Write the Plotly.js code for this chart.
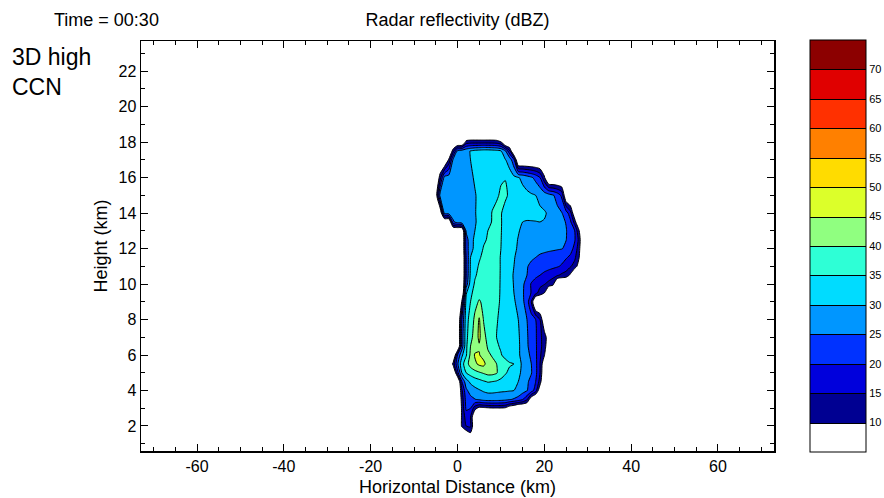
<!DOCTYPE html>
<html><head><meta charset="utf-8">
<script src="https://cdn.plot.ly/plotly-3.0.1.min.js"></script>
<style>html,body{margin:0;padding:0;background:#fff}#chart{width:884px;height:498px}</style>
</head><body><div id="chart"></div>
<script>
// Grid coordinates (km)
const xKm = [-6,-5,-4,-3,-2,-1,0,1,2,3,4,5,6,7,8,9,10,11,12,13,14,15,16,17,18,19,20,21,22,23,24,25,26,27,28,29];
const yKm = [1.5,2,2.5,3,3.5,4,4.5,5,5.5,6,6.5,7,8,9,9.5,10,10.5,11,11.5,12,12.5,13,13.5,14,15,16,17,17.5,18,18.5];

// Radar reflectivity (dBZ), one row per height in yKm, one column per distance in xKm
const dbz = [
 [0,0,0,0,0,0, 0,0,5,8,0,0,0,0,0,0, 0,0,0,0,0,0,0,0,0,0, 0,0,0,0,0,0,0,0,0,0],
 [0,0,0,0,0,0, 0,11,15,16,3,0,0,0,0,0, 0,0,0,0,0,0,0,0,0,0, 0,0,0,0,0,0,0,0,0,0],
 [0,0,0,0,0,0, 0,11,17,15,2,0,0,0,0,0, 0,0,0,0,0,0,0,0,0,0, 0,0,0,0,0,0,0,0,0,0],
 [0,0,0,0,0,0, 0,11,21,20,12,8,8.5,9,9.5,9.5, 9.5,9,5,3,0,0,0,0,0,0, 0,0,0,0,0,0,0,0,0,0],
 [0,0,0,0,0,0, 0,12,22,23.5,24.8,25.8,27,27.5,27.5,27.3, 27,26.5,25.5,24.5,23,20.5,16,5,0,0, 0,0,0,0,0,0,0,0,0,0],
 [0,0,0,0,0,0, 0,14,24,27,28.5,29.6,30.5,31,31,30.8, 30.6,30.5,30.3,30,29,27,25.3,22.5,17.5,5, 0,0,0,0,0,0,0,0,0,0],
 [0,0,0,0,0,0, 0,20,28,31,32.5,33.5,34.5,35.3,35,34.5, 34,33,32,30.8,30,28,25.8,23.5,20,13, 0,0,0,0,0,0,0,0,0,0],
 [0,0,0,0,0,0, 18,30,35,37,38.5,39.5,40.5,41.5,41.5,40.5, 37,35.5,34,32.5,31,29,27,25.3,21.5,15, 3,0,0,0,0,0,0,0,0,0],
 [0,0,0,0,0,12, 24,33,38,42,44,46,46.5,42.5,41.5,40, 38,36.5,35.5,35,32,29,26.5,25,21.5,15, 5,0,0,0,0,0,0,0,0,0],
 [0,0,0,0,0,0, 20,29,34.5,41,45.5,45.3,43,41,39.5,37, 35.3,33.8,32.5,31.5,30.5,29,26.5,24,21,16, 10.5,0,0,0,0,0,0,0,0,0],
 [0,0,0,0,0,0, 0,22,34,40,43,44.5,43,39.3,37,35.6, 34.5,33.5,32.5,31.5,30.7,28.5,25.7,23,20.8,16.5, 12.5,5,0,0,0,0,0,0,0,0],
 [0,0,0,0,0,0, 0,22,33.5,38.5,42,46,41.5,38.5,36.5,35, 34,33,32,31,30.5,28.5,25.5,23,20.8,16, 13,6,0,0,0,0,0,0,0,0],
 [0,0,0,0,0,0, 0,20,33,37,41,45.5,39.8,38,36.5,35.3, 34.2,33,32,31,30,28,25,22.5,20,15, 4,0,0,0,0,0,0,0,0,0],
 [0,0,0,0,0,0, 0,10.5,32,35,38.5,40.5,39,38,37,36, 34.5,33,31.5,30.4,29,26,22.5,15,0,0, 0,0,0,0,0,0,0,0,0,0],
 [0,0,0,0,0,0, 0,0,29.5,34,36.5,38.5,39,38.5,37.7,36.5, 34.5,33,31.5,30,28,25.8,22,19.8,16.5,13, 10,0,0,0,0,0,0,0,0,0],
 [0,0,0,0,0,0, 0,0,22,32.5,35.5,37,38,38.3,38,36.8, 34.5,33,31.3,29.8,27.8,25.9,23,19.5,17.5,16.3, 15.3,13.5,11.5,0,0,0,0,0,0,0],
 [0,0,0,0,0,0, 0,0,20,31,34.5,36,37,37.5,37.3,36.3, 34.7,33,31.4,29.6,28.3,26.8,25,22.8,21.2,20, 18.8,17.8,16.8,15.7,14,13,9,0,0,0],
 [0,0,0,0,0,0, 0,0,20,30.5,33.5,35.5,36.5,37,37,36, 34.8,33.3,31.6,30,28.5,26.8,25.3,24,23,22.5, 22,21.5,21,20.4,19.5,17.5,15.5,13,7,0],
 [0,0,0,0,0,0, 0,0,20,30,32,34.5,36,36.5,37,36, 34.8,33.5,32,30.4,28.5,27.5,26.5,25.7,25,24, 23.5,23,22.5,22,21.5,20.5,19,16,10.3,0],
 [0,0,0,0,0,0, 0,0,22,28.5,31,33,35.3,36,36.5,36, 35,33.5,32,30.8,29.5,28.5,28,27.5,27,26.7, 26.3,26,25.8,25.5,25.2,24.3,22,18.5,12,0],
 [0,0,0,0,0,0, 0,0,22,29,30.5,32,34.3,35.4,36,35.8, 35.1,33.5,32,31,29.8,29,28.5,28,27.8,27.6, 27.3,27,26.5,26,25.6,25.1,23.5,20.5,13.5,0],
 [0,0,0,0,0,0, 0,0,26,28.5,30,31.5,33,35,35.5,35.8, 35.2,33.5,32,31,30.3,29.2,28.5,28.3,28.2,28, 27.8,27.5,27,26.5,26,25.3,23,20,10.5,0],
 [0,0,0,0,0,24, 27.5,28.5,29,29.5,29.8,30.5,32,33.5,35.3,36, 35.3,33.5,32.5,31.5,30.8,30,29.7,29.8,29.9,30, 29.8,29,28,27,26,24.8,21,13,0,0],
 [0,0,3,27,27.5,28, 28,28.5,29,29.5,29.8,30.8,32,33.5,35.2,36, 35.2,34,33,32.5,32,31.5,31.5,31.2,31,30.7, 30.4,29.5,28,26.5,25.3,22.5,17,4,0,0],
 [0,5,27,27.5,28,28, 28,28.5,29,29.3,29.8,30.6,32,33,33.8,34.5, 35.5,35.5,34.5,33.5,32.5,31.5,31,30.5,30,29, 28,27,25.5,23,19,3,0,0,0,0],
 [0,0,13,27,27.5,28, 28,28.5,29,29.5,30.3,31,32,32.5,33,33.5, 34.6,34.9,32,31,30.3,29,27.5,25.8,23.5,20, 11,0,0,0,0,0,0,0,0,0],
 [0,0,0,0,11,26, 27,28,29,30,31.5,32.5,33,33,33,32.5, 31.5,30.3,28,21,0,0,0,0,0,0, 0,0,0,0,0,0,0,0,0,0],
 [0,0,0,0,0,13, 26,27.5,28.7,30.2,31.5,32,32.5,32.5,32,31.5, 30.3,26,16,0,0,0,0,0,0,0, 0,0,0,0,0,0,0,0,0,0],
 [0,0,0,0,0,0, 0,0,12,13,13,13,13,13,13,12.5, 10.5,0,0,0,0,0,0,0,0,0, 0,0,0,0,0,0,0,0,0,0],
 [0,0,0,0,0,0, 0,0,0,0,0,0,0,0,0,0, 0,0,0,0,0,0,0,0,0,0, 0,0,0,0,0,0,0,0,0,0]
];

// Contour levels and band colours (5-10 ... 70-75 dBZ)
const levelStart = 10, levelEnd = 70, levelStep = 5;
const bandColors = ['#ffffff','#000092','#0000dc','#0032ff','#0096ff','#00dcff','#2effd6',
                    '#90ff80','#dcff2a','#ffdc00','#ff8000','#ff3000','#e00000','#8c0000'];
const cbTickVals = [10,15,20,25,30,35,40,45,50,55,60,65,70];
const cbTickText = ['10','15','20','25','30','35','40','45','50','55','60','65','70'];
const xTickVals = [-60,-40,-20,0,20,40,60];
const xTickText = ['-60','-40','-20','0','20','40','60'];
const yTickVals = [2,4,6,8,10,12,14,16,18,20,22];
const yTickText = ['2','4','6','8','10','12','14','16','18','20','22'];

const FONT = 'Liberation Sans, Arial, Helvetica, sans-serif';
const colorscale = bandColors.map((c, i) => [i / (bandColors.length - 1), c]);

const W = 884, H = 498;
const plotL = 141, plotR = 774, plotT = 41, plotB = 451;
const plotW = plotR - plotL, plotH = plotB - plotT;

const trace = {
  type: 'contour',
  x: xKm, y: yKm, z: dbz,
  autocontour: false,
  contours: {start: levelStart, end: levelEnd, size: levelStep, coloring: 'fill', showlines: true},
  line: {color: '#000000', width: 1, smoothing: 0.6},
  colorscale: colorscale,
  zmin: 5, zmax: 75,
  hoverinfo: 'skip',
  colorbar: {
    xref: 'container', x: 810 / W, xanchor: 'left', xpad: 0,
    yref: 'paper', y: (plotB - 246) / plotH, yanchor: 'middle', ypad: 0,
    thicknessmode: 'pixels', thickness: 56,
    lenmode: 'fraction', len: 412 / plotH,
    outlinecolor: '#000000', outlinewidth: 1,
    tickmode: 'array', tickvals: cbTickVals, ticktext: cbTickText,
    ticks: '', ticklen: 0,
    tickfont: {family: FONT, size: 11, color: '#000000'},
    borderwidth: 0
  }
};

const layout = {
  width: W, height: H,
  margin: {l: plotL, r: W - plotR, t: plotT, b: H - plotB, pad: 0},
  paper_bgcolor: '#ffffff', plot_bgcolor: '#ffffff',
  font: {family: FONT, color: '#000000'},
  showlegend: false,
  title: {text: 'Radar reflectivity (dBZ)', font: {family: FONT, size: 18, color: '#000'},
          x: 0.5, xref: 'paper', xanchor: 'center', y: 1 - 20 / H, yref: 'container', yanchor: 'middle'},
  xaxis: {
    range: [-72.9, 72.9], tickmode: 'array', tickvals: xTickVals, ticktext: xTickText,
    ticks: 'inside', ticklen: 7, tickwidth: 1, tickcolor: '#000',
    minor: {tickmode: 'linear', tick0: 0, dtick: 5, ticks: 'inside', ticklen: 4, tickwidth: 1, tickcolor: '#000', showgrid: false},
    showline: true, linecolor: '#000', linewidth: 1.5, mirror: 'ticks',
    showgrid: false, zeroline: false, automargin: false,
    tickfont: {family: FONT, size: 16, color: '#000'},
    title: {text: 'Horizontal Distance (km)', font: {family: FONT, size: 18, color: '#000'}, standoff: 6}
  },
  yaxis: {
    range: [0.59, 23.7], tickmode: 'array', tickvals: yTickVals, ticktext: yTickText,
    ticks: 'inside', ticklen: 7, tickwidth: 1, tickcolor: '#000',
    minor: {tickmode: 'linear', tick0: 0, dtick: 1, ticks: 'inside', ticklen: 4, tickwidth: 1, tickcolor: '#000', showgrid: false},
    showline: true, linecolor: '#000', linewidth: 1.5, mirror: 'ticks',
    showgrid: false, zeroline: false, automargin: false,
    tickfont: {family: FONT, size: 16, color: '#000'},
    title: {text: 'Height (km)', font: {family: FONT, size: 18, color: '#000'}, standoff: 6}
  },
  annotations: [
    {text: 'Time = 00:30', xref: 'paper', yref: 'paper', x: (106 - plotL) / plotW, y: (plotB - 20) / plotH,
     xanchor: 'center', yanchor: 'middle', showarrow: false, font: {family: FONT, size: 18, color: '#000'}},
    {text: '3D high<br>CCN', xref: 'paper', yref: 'paper', x: (10 - plotL) / plotW, y: (plotB - 72) / plotH,
     xanchor: 'left', yanchor: 'middle', align: 'left', showarrow: false, font: {family: FONT, size: 23, color: '#000'}}
  ]
};

Plotly.newPlot('chart', [trace], layout, {displayModeBar: false, staticPlot: true});
</script>
</body></html>
